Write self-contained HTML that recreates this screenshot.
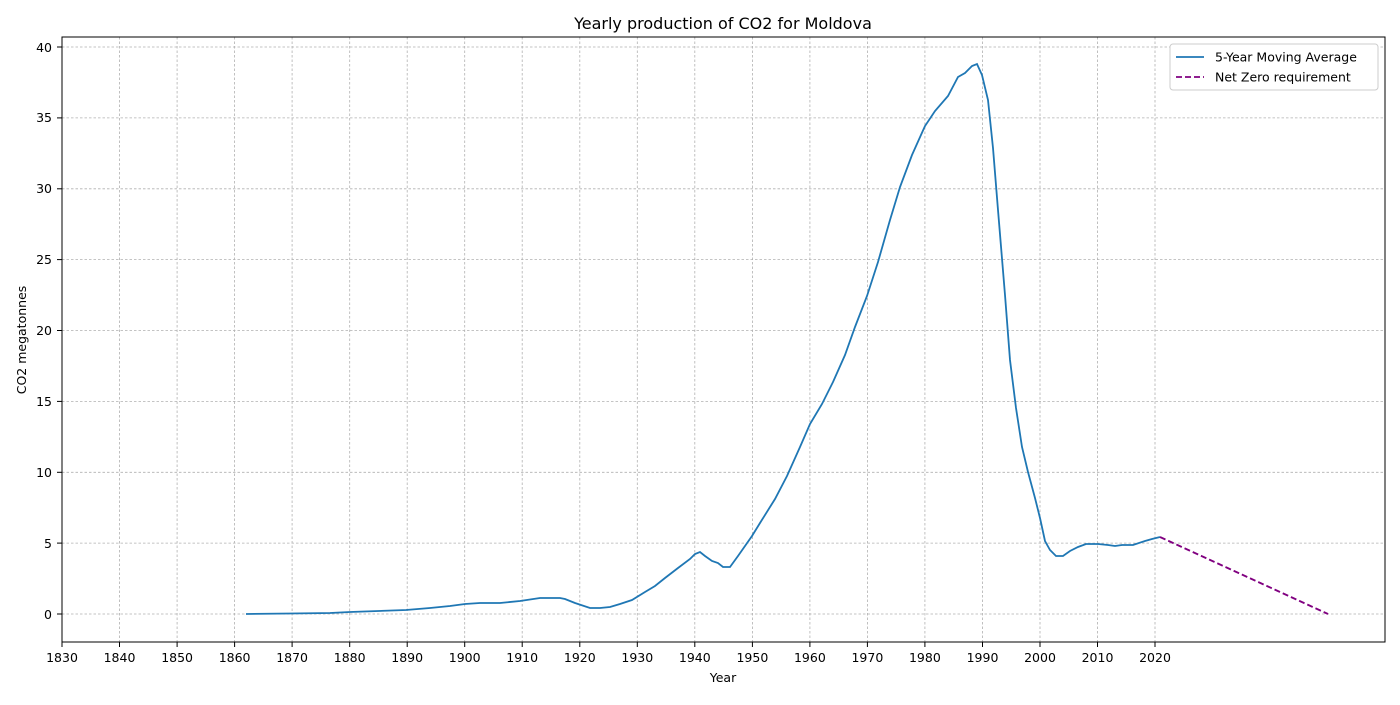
<!DOCTYPE html>
<html><head><meta charset="utf-8"><style>
body{margin:0;background:#fff;}
svg text{font-family:"DejaVu Sans","Liberation Sans",sans-serif;fill:#000;}
</style></head><body>
<svg width="1400" height="700" xmlns="http://www.w3.org/2000/svg">
<rect width="1400" height="700" fill="#fff"/>
<g stroke="#b0b0b0" stroke-width="0.8" stroke-dasharray="2.5,2">
<line x1="62" y1="37" x2="62" y2="642"/><line x1="119.5" y1="37" x2="119.5" y2="642"/><line x1="177.1" y1="37" x2="177.1" y2="642"/><line x1="234.6" y1="37" x2="234.6" y2="642"/><line x1="292.1" y1="37" x2="292.1" y2="642"/><line x1="349.7" y1="37" x2="349.7" y2="642"/><line x1="407.2" y1="37" x2="407.2" y2="642"/><line x1="464.7" y1="37" x2="464.7" y2="642"/><line x1="522.2" y1="37" x2="522.2" y2="642"/><line x1="579.8" y1="37" x2="579.8" y2="642"/><line x1="637.3" y1="37" x2="637.3" y2="642"/><line x1="694.8" y1="37" x2="694.8" y2="642"/><line x1="752.4" y1="37" x2="752.4" y2="642"/><line x1="809.9" y1="37" x2="809.9" y2="642"/><line x1="867.4" y1="37" x2="867.4" y2="642"/><line x1="924.9" y1="37" x2="924.9" y2="642"/><line x1="982.5" y1="37" x2="982.5" y2="642"/><line x1="1040" y1="37" x2="1040" y2="642"/><line x1="1097.5" y1="37" x2="1097.5" y2="642"/><line x1="1155" y1="37" x2="1155" y2="642"/>
<line x1="62" y1="614" x2="1385" y2="614"/><line x1="62" y1="543.1" x2="1385" y2="543.1"/><line x1="62" y1="472.3" x2="1385" y2="472.3"/><line x1="62" y1="401.4" x2="1385" y2="401.4"/><line x1="62" y1="330.5" x2="1385" y2="330.5"/><line x1="62" y1="259.6" x2="1385" y2="259.6"/><line x1="62" y1="188.8" x2="1385" y2="188.8"/><line x1="62" y1="117.9" x2="1385" y2="117.9"/><line x1="62" y1="47" x2="1385" y2="47"/>
</g>
<polyline fill="none" stroke="#1f77b4" stroke-width="1.8" points="246,614 290,613.5 330,613 350,612 406,610 430,608 450,606 465,604 480,603 500,603 520,601 540,598 560,598 565,599 575,603 590,608 600,608 610,607 620,604 632,600 645,592 655,586 665,578 678,568 690,559 695,554 700,552 705,556 712,561 718,563 723,567 730,567 738,556 745,546 752,536 760,523 775,499 787,476 800,447 810,424 822,404 833,382 845,355 855,327 867,296 878,262 890,220 900,187 912,155 925,126 935,111 948,96 958,77 965,73 972,66 977,64 982,75 988,100 993,148 998,210 1005,295 1010,360 1016,408 1022,447 1028,472 1035,498 1040,518 1045,541 1050,550 1056,556 1063,556 1070,551 1078,547 1086,544 1098,544 1108,545 1115,546 1122,545 1133,545 1145,541 1152,539 1160,537"/>
<line x1="1160" y1="537" x2="1328" y2="614" stroke="#800080" stroke-width="1.8" stroke-dasharray="6,3"/>
<rect x="62" y="37" width="1323" height="605" fill="none" stroke="#000" stroke-width="1"/>
<g stroke="#000" stroke-width="1">
<line x1="62" y1="642" x2="62" y2="647"/><line x1="119.5" y1="642" x2="119.5" y2="647"/><line x1="177.1" y1="642" x2="177.1" y2="647"/><line x1="234.6" y1="642" x2="234.6" y2="647"/><line x1="292.1" y1="642" x2="292.1" y2="647"/><line x1="349.7" y1="642" x2="349.7" y2="647"/><line x1="407.2" y1="642" x2="407.2" y2="647"/><line x1="464.7" y1="642" x2="464.7" y2="647"/><line x1="522.2" y1="642" x2="522.2" y2="647"/><line x1="579.8" y1="642" x2="579.8" y2="647"/><line x1="637.3" y1="642" x2="637.3" y2="647"/><line x1="694.8" y1="642" x2="694.8" y2="647"/><line x1="752.4" y1="642" x2="752.4" y2="647"/><line x1="809.9" y1="642" x2="809.9" y2="647"/><line x1="867.4" y1="642" x2="867.4" y2="647"/><line x1="924.9" y1="642" x2="924.9" y2="647"/><line x1="982.5" y1="642" x2="982.5" y2="647"/><line x1="1040" y1="642" x2="1040" y2="647"/><line x1="1097.5" y1="642" x2="1097.5" y2="647"/><line x1="1155" y1="642" x2="1155" y2="647"/>
<line x1="57" y1="614" x2="62" y2="614"/><line x1="57" y1="543.1" x2="62" y2="543.1"/><line x1="57" y1="472.3" x2="62" y2="472.3"/><line x1="57" y1="401.4" x2="62" y2="401.4"/><line x1="57" y1="330.5" x2="62" y2="330.5"/><line x1="57" y1="259.6" x2="62" y2="259.6"/><line x1="57" y1="188.8" x2="62" y2="188.8"/><line x1="57" y1="117.9" x2="62" y2="117.9"/><line x1="57" y1="47" x2="62" y2="47"/>
</g>
<g font-size="12.5" text-anchor="middle">
<text x="62" y="662">1830</text><text x="119.5" y="662">1840</text><text x="177.1" y="662">1850</text><text x="234.6" y="662">1860</text><text x="292.1" y="662">1870</text><text x="349.7" y="662">1880</text><text x="407.2" y="662">1890</text><text x="464.7" y="662">1900</text><text x="522.2" y="662">1910</text><text x="579.8" y="662">1920</text><text x="637.3" y="662">1930</text><text x="694.8" y="662">1940</text><text x="752.4" y="662">1950</text><text x="809.9" y="662">1960</text><text x="867.4" y="662">1970</text><text x="924.9" y="662">1980</text><text x="982.5" y="662">1990</text><text x="1040" y="662">2000</text><text x="1097.5" y="662">2010</text><text x="1155" y="662">2020</text>
</g>
<g font-size="12.5" text-anchor="end">
<text x="52" y="619">0</text><text x="52" y="548">5</text><text x="52" y="477">10</text><text x="52" y="406">15</text><text x="52" y="335">20</text><text x="52" y="264">25</text><text x="52" y="193">30</text><text x="52" y="122">35</text><text x="52" y="52">40</text>
</g>
<text x="723" y="682" font-size="12.5" text-anchor="middle">Year</text>
<text x="26" y="340" font-size="12.5" text-anchor="middle" transform="rotate(-90 26 340)">CO2 megatonnes</text>
<text x="723" y="29" font-size="16" text-anchor="middle">Yearly production of CO2 for Moldova</text>
<rect x="1170" y="44" width="208" height="46" rx="3" fill="#fff" stroke="#ccc"/>
<line x1="1176" y1="57" x2="1204" y2="57" stroke="#1f77b4" stroke-width="1.8"/>
<line x1="1176" y1="77" x2="1204" y2="77" stroke="#800080" stroke-width="1.8" stroke-dasharray="6,3"/>
<text x="1215" y="61.5" font-size="12.5">5-Year Moving Average</text>
<text x="1215" y="81.5" font-size="12.5">Net Zero requirement</text>
</svg>
</body></html>
